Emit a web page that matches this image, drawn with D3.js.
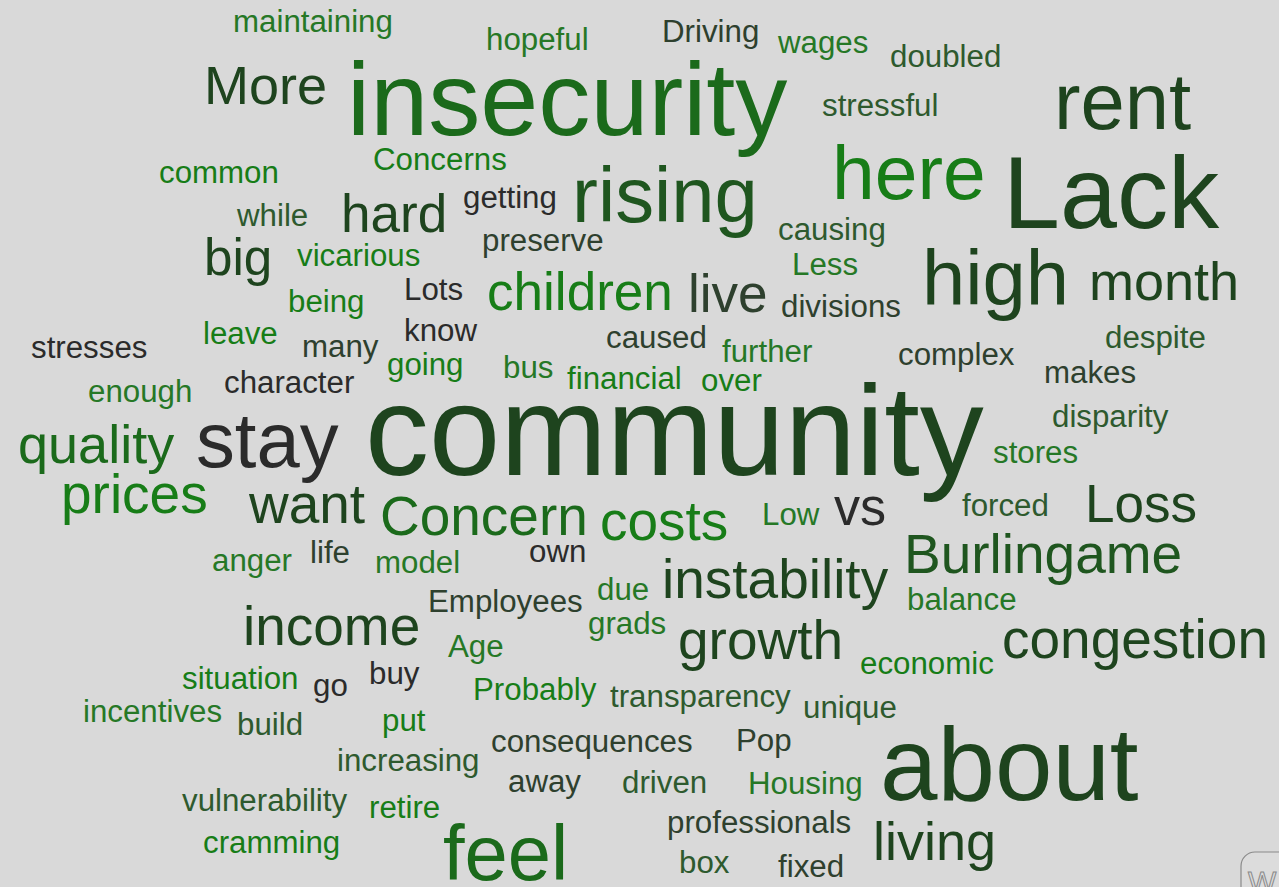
<!DOCTYPE html>
<html>
<head>
<meta charset="utf-8">
<script src="https://cdn.jsdelivr.net/npm/d3@7"></script>
<style>
  html, body { margin: 0; padding: 0; background: #d9d9d9; overflow: hidden; }
  svg { display: block; }
</style>
</head>
<body>
<script>
// ---- data ----
const words = ["maintaining","hopeful","Driving","wages","doubled","More","insecurity","stressful","rent","Concerns",
  "common","here","Lack","while","hard","getting","rising","causing","big","vicarious",
  "preserve","Less","high","month","Lots","children","live","divisions","being","stresses",
  "leave","many","know","caused","further","despite","complex","enough","character","going",
  "bus","financial","over","makes","quality","stay","community","disparity","stores","prices",
  "want","Concern","costs","Low","vs","forced","Loss","anger","life","model",
  "own","Burlingame","instability","due","Employees","balance","income","grads","Age","growth",
  "economic","congestion","situation","go","buy","Probably","transparency","unique","incentives","build",
  "put","consequences","Pop","about","increasing","away","driven","Housing","vulnerability","retire",
  "professionals","living","cramming","feel","box","fixed"];
// relative weight of each word
const weights = [33,33,33,33,33,57,110,33,84,33,
  33,81,108,33,56,33,82,33,54,33,
  33,33,82,57,33,56,56,33,33,33,
  33,33,33,33,33,33,33,33,33,33,
  33,33,33,33,57,82,135,33,33,58,
  58,58,58,33,55,33,56,33,33,33,
  33,58,58,33,33,33,58,33,33,58,
  33,58,33,33,33,33,33,33,33,33,
  33,33,33,109,33,33,33,33,33,33,
  33,57,33,82,33,33];
// layout coordinates (left, baseline) in the cloud's own 1279 x 887 space
const layoutX = [233,486,662,778,890,204,347,822,1054,373,
  159,832,1003,237,341,463,572,778,204,297,
  482,792,922,1089,404,487,688,781,288,31,
  203,302,404,606,722,1105,898,88,224,387,
  503,567,701,1044,18,196,365,1052,993,61,
  249,380,600,762,834,962,1085,212,310,375,
  529,904,662,597,428,907,243,588,448,678,
  860,1002,182,313,369,473,610,803,83,237,
  382,491,736,880,337,508,622,748,182,369,
  667,873,203,443,679,778];
const layoutY = [32,50,42,53,67,104,135,116,129,170,
  183,199,228,226,232,208,222,240,275,266,
  251,275,305,300,300,310,312,317,312,358,
  344,357,341,348,362,348,365,402,393,375,
  378,389,391,383,463,467,475,427,463,513,
  523,535,540,525,525,516,522,571,563,573,
  562,573,598,600,612,610,645,634,657,659,
  674,658,689,696,684,700,707,718,722,735,
  731,752,751,800,771,792,793,794,811,818,
  833,860,853,880,873,877];
// colour group of each word
const groups = [5,5,6,5,4,0,1,4,0,2,
  2,2,0,4,0,3,7,4,0,2,
  6,5,0,0,3,2,6,6,2,3,
  2,6,3,6,5,4,6,5,3,2,
  5,2,2,6,1,3,0,4,5,2,
  0,1,2,5,3,4,0,5,6,5,
  3,7,0,5,6,5,0,5,5,0,
  2,0,2,3,3,2,4,4,5,4,
  2,6,6,0,4,6,4,5,4,2,
  6,0,2,1,4,6];
const groupColors = ["#1e441e","#1b6a1b","#177d17","#2b2b2b","#2e5a2e","#267826","#2e402e","#1f561f"];

// ---- drawing ----
const W = 1279, H = 887;
const svg = d3.select("body").append("svg").attr("width", W).attr("height", H);
svg.append("rect").attr("width", W).attr("height", H).attr("fill", "#d9d9d9");

const x = d3.scaleLinear().domain([0, 1279]).range([0, W]);
const y = d3.scaleLinear().domain([0, 887]).range([0, H]);
const size = d3.scaleLinear().domain([0, 135]).range([0, 128]);
const color = d3.scaleOrdinal().domain(d3.range(groupColors.length)).range(groupColors);

const data = words.map((w, i) => ({ text: w, weight: weights[i], x: layoutX[i], y: layoutY[i], g: groups[i] }));

svg.append("g").selectAll("text")
  .data(data)
  .join("text")
  .attr("x", d => x(d.x))
  .attr("y", d => y(d.y))
  .attr("font-family", "'Liberation Sans', Arial, Helvetica, sans-serif")
  .attr("font-size", d => size(d.weight))
  .attr("fill", d => color(d.g))
  .text(d => d.text);

// Wordle badge, partly cut off in the lower right corner
const badge = svg.append("g").attr("transform", "translate(1241,852)");
badge.append("rect").attr("x", 0).attr("y", 0).attr("width", 80).attr("height", 60).attr("rx", 14)
  .attr("fill", "#dcdcdc").attr("stroke", "#8a8a8a").attr("stroke-width", 1.2);
badge.append("text").attr("x", 7).attr("y", 40).attr("font-family", "'Liberation Sans', Arial, sans-serif")
  .attr("font-size", 30).attr("fill", "none").attr("stroke", "#8a8a8a").attr("stroke-width", 1).text("W");
</script>
</body>
</html>
